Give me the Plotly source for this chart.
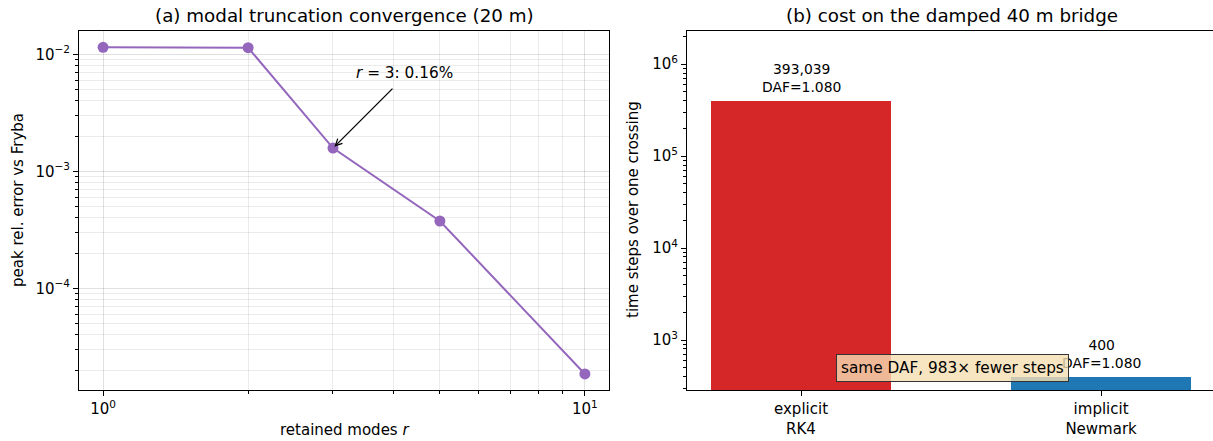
import math
import plotly.graph_objects as go

# ---- data ----
modes = [1, 2, 3, 5, 10]
peak_err = [0.0115, 0.0114, 0.00158, 0.000376, 1.85e-5]
annot_mode = 3
annot_label = "<i>r</i> = 3: 0.16%"

methods = ["explicit<br>RK4", "implicit<br>Newmark"]
steps = [393039, 400]
daf = [1.080, 1.080]
bar_colors = ["#d62728", "#1f77b4"]

x_ticks_a = [1, 10]
x_ticktext_a = ["10<sup>0</sup>", "10<sup>1</sup>"]
y_ticks_a = [1e-4, 1e-3, 1e-2]
y_ticktext_a = ["10<sup>\u22124</sup>", "10<sup>\u22123</sup>", "10<sup>\u22122</sup>"]
y_ticks_b = [1e3, 1e4, 1e5, 1e6]
y_ticktext_b = ["10<sup>3</sup>", "10<sup>4</sup>", "10<sup>5</sup>", "10<sup>6</sup>"]

FONT = "DejaVu Sans"
W, H = 1213, 441
TITLE_SIZE = 18.3
TICK_SIZE = 15
LABEL_SIZE = 15
BAR_LABEL_SIZE = 13.9
NOTE_SIZE = 15.3

def minor_vals(lo, hi):
    out = []
    for k in range(lo, hi + 1):
        for d in range(2, 10):
            out.append(d * 10 ** k)
    return out

fig = go.Figure()

fig.add_trace(go.Scatter(
    x=modes, y=peak_err, mode="lines+markers",
    line=dict(color="#9467bd", width=2),
    marker=dict(color="#9467bd", size=11),
    xaxis="x", yaxis="y", showlegend=False,
))

fig.add_trace(go.Bar(
    x=[0, 1], y=steps, width=0.6, marker=dict(color=bar_colors, line=dict(width=0)),
    xaxis="x2", yaxis="y2", showlegend=False,
))

axis_common = dict(
    showline=True, linecolor="black", linewidth=1,
    ticks="outside", ticklen=5, tickwidth=1, tickcolor="black",
    tickfont=dict(family=FONT, size=TICK_SIZE, color="black"),
    zeroline=False,
)

fig.update_layout(
    width=W, height=H,
    margin=dict(l=0, r=0, t=0, b=0),
    paper_bgcolor="white", plot_bgcolor="white",
    font=dict(family=FONT, color="black"),
    xaxis=dict(
        domain=[79 / W, 609 / W], anchor="y", type="log", range=[-0.05, 1.05],
        tickmode="array", tickvals=x_ticks_a, ticktext=x_ticktext_a,
        showgrid=True, gridcolor="rgba(0,0,0,0.12)", gridwidth=1, mirror=True,
        minor=dict(tickmode="array", tickvals=minor_vals(0, 0), ticks="outside", ticklen=3,
                   tickcolor="black", showgrid=True, gridcolor="rgba(0,0,0,0.08)"),
        **axis_common,
    ),
    yaxis=dict(
        domain=[1 - 390 / H, 1 - 31 / H], anchor="x", type="log", range=[-4.87, -1.80],
        tickmode="array", tickvals=y_ticks_a, ticktext=y_ticktext_a,
        showgrid=True, gridcolor="rgba(0,0,0,0.12)", gridwidth=1, mirror=True,
        minor=dict(tickmode="array", tickvals=minor_vals(-5, -2), ticks="outside", ticklen=3,
                   tickcolor="black", showgrid=True, gridcolor="rgba(0,0,0,0.08)"),
        **axis_common,
    ),
    xaxis2=dict(
        domain=[687 / W, 1.0], anchor="y2", range=[-0.38, 1.373],
        tickmode="array", tickvals=[0, 1], ticktext=methods,
        showgrid=False, mirror=True,
        **axis_common,
    ),
    yaxis2=dict(
        domain=[1 - 390 / H, 1 - 31 / H], anchor="x2", type="log", range=[2.457, 6.36],
        tickmode="array", tickvals=y_ticks_b, ticktext=y_ticktext_b,
        showgrid=False,
        minor=dict(tickmode="array", tickvals=minor_vals(2, 6), ticks="outside", ticklen=3,
                   tickcolor="black", showgrid=False),
        **axis_common,
    ),
    bargap=0,
)

ann = []
# titles
ann.append(dict(text="(a) modal truncation convergence (20 m)", xref="paper", yref="paper",
                x=344 / W, y=1 - 15 / H, xanchor="center", yanchor="middle", showarrow=False,
                font=dict(family=FONT, size=TITLE_SIZE, color="black")))
ann.append(dict(text="(b) cost on the damped 40 m bridge", xref="paper", yref="paper",
                x=952 / W, y=1 - 15 / H, xanchor="center", yanchor="middle", showarrow=False,
                font=dict(family=FONT, size=TITLE_SIZE, color="black")))
# axis titles
ann.append(dict(text="retained modes <i>r</i>", xref="paper", yref="paper",
                x=344 / W, y=1 - 430 / H, xanchor="center", yanchor="middle", showarrow=False,
                font=dict(family=FONT, size=LABEL_SIZE, color="black")))
ann.append(dict(text="peak rel. error vs Fryba", xref="paper", yref="paper", textangle=-90,
                x=18 / W, y=1 - 200 / H, xanchor="center", yanchor="middle", showarrow=False,
                font=dict(family=FONT, size=LABEL_SIZE, color="black")))
ann.append(dict(text="time steps over one crossing", xref="paper", yref="paper", textangle=-90,
                x=633 / W, y=1 - 210 / H, xanchor="center", yanchor="middle", showarrow=False,
                font=dict(family=FONT, size=LABEL_SIZE, color="black")))

# arrow annotation (panel a)
i3 = modes.index(annot_mode)
ann.append(dict(text="", x=math.log10(modes[i3]), y=math.log10(peak_err[i3]), xref="x", yref="y",
                showarrow=True, arrowhead=5, arrowsize=1, arrowwidth=1.3, arrowcolor="black",
                axref="pixel", ayref="pixel", ax=61, ay=-61, standoff=2))
ann.append(dict(text=annot_label, x=math.log10(modes[i3]), y=math.log10(peak_err[i3]), xref="x", yref="y",
                showarrow=False, xshift=72, yshift=75, xanchor="center", yanchor="middle",
                font=dict(family=FONT, size=NOTE_SIZE, color="black")))

# bar labels
for i, (s, d) in enumerate(zip(steps, daf)):
    ann.append(dict(text=f"{s:,}<br>DAF={d:.3f}", x=i, y=math.log10(s), xref="x2", yref="y2",
                    showarrow=False, xanchor="center", yanchor="bottom", yshift=4,
                    font=dict(family=FONT, size=BAR_LABEL_SIZE, color="black")))

ratio = round(steps[0] / steps[1])
ann.append(dict(text=f"same DAF, {ratio}\u00d7 fewer steps", xref="x2 domain", yref="y2 domain",
                x=0.505, y=0.061, xanchor="center", yanchor="middle", showarrow=False,
                bgcolor="rgba(245,222,179,0.8)", bordercolor="#333333", borderwidth=1, borderpad=4,
                font=dict(family=FONT, size=NOTE_SIZE, color="black")))

fig.update_layout(annotations=ann)
fig.write_html("out.html", config={"displayModeBar": False})

with open("out.html", "r", encoding="utf-8") as f:
    html = f.read()
html = html.replace("<body>", '<body style="margin:0;padding:0;overflow:hidden">', 1)
with open("out.html", "w", encoding="utf-8") as f:
    f.write(html)
